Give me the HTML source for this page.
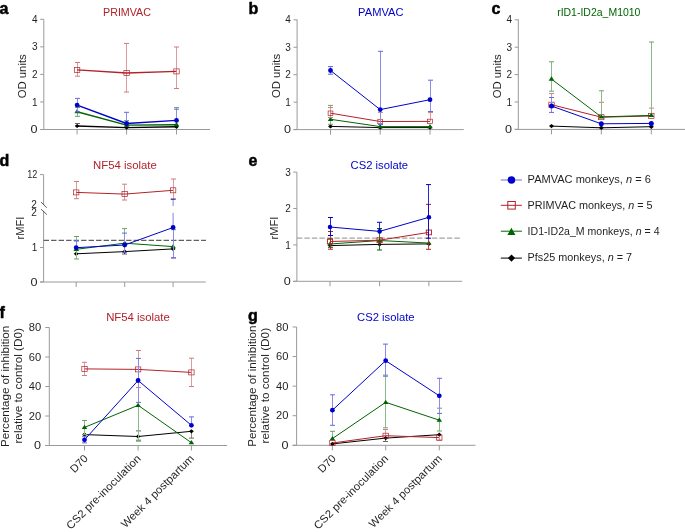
<!DOCTYPE html>
<html><head><meta charset="utf-8"><style>
html,body{margin:0;padding:0;background:#fff;width:685px;height:532px;overflow:hidden}
svg{display:block;will-change:transform}
text{font-family:"Liberation Sans", sans-serif}
</style></head><body>
<svg width="685" height="532" viewBox="0 0 685 532">
<text x="-0.50" y="13.70" font-size="16" font-weight="bold" fill="#000" stroke="#000" stroke-width="0.5">a</text>
<text x="127.00" y="15.90" text-anchor="middle" font-size="10.9" fill="#b2222a" textLength="48" lengthAdjust="spacingAndGlyphs">PRIMVAC</text>
<path d="M43.80,19.40V129.50" stroke="#9a9a9a" stroke-width="1" fill="none"/>
<path d="M40.20,129.50H43.80" stroke="#9a9a9a" stroke-width="1" fill="none"/>
<text x="37.60" y="133.10" text-anchor="end" font-size="10" fill="#231f20" textLength="7.0" lengthAdjust="spacingAndGlyphs">0</text>
<path d="M40.20,101.95H43.80" stroke="#9a9a9a" stroke-width="1" fill="none"/>
<text x="37.60" y="105.55" text-anchor="end" font-size="10" fill="#231f20">1</text>
<path d="M40.20,74.40H43.80" stroke="#9a9a9a" stroke-width="1" fill="none"/>
<text x="37.60" y="78.00" text-anchor="end" font-size="10" fill="#231f20">2</text>
<path d="M40.20,46.85H43.80" stroke="#9a9a9a" stroke-width="1" fill="none"/>
<text x="37.60" y="50.45" text-anchor="end" font-size="10" fill="#231f20">3</text>
<path d="M40.20,19.30H43.80" stroke="#9a9a9a" stroke-width="1" fill="none"/>
<text x="37.60" y="22.90" text-anchor="end" font-size="10" fill="#231f20">4</text>
<text transform="translate(26.20,76.30) rotate(-90)" text-anchor="middle" font-size="11" fill="#231f20" textLength="44.1" lengthAdjust="spacingAndGlyphs">OD units</text>
<path d="M40.20,129.50H210.00" stroke="#9a9a9a" stroke-width="1" fill="none"/>
<path d="M77.10,129.50V134.50" stroke="#9a9a9a" stroke-width="1" fill="none"/>
<path d="M126.60,129.50V134.50" stroke="#9a9a9a" stroke-width="1" fill="none"/>
<path d="M176.50,129.50V134.50" stroke="#9a9a9a" stroke-width="1" fill="none"/>
<path d="M77.50,126.00V123.50" stroke="#8c8c8c" stroke-width="1.0" fill="none"/><path d="M75.00,123.50H80.00" stroke="#666666" stroke-width="1" fill="none"/>
<polyline points="77.10,126.00 126.60,127.60 176.50,126.80" fill="none" stroke="#000000" stroke-width="1.45" stroke-linejoin="round"/>
<path d="M77.10,123.90L79.50,126.00L77.10,128.10L74.70,126.00Z" fill="#000000"/>
<path d="M126.60,125.50L129.00,127.60L126.60,129.70L124.20,127.60Z" fill="#000000"/>
<path d="M176.50,124.70L178.90,126.80L176.50,128.90L174.10,126.80Z" fill="#000000"/>
<path d="M77.50,111.70V107.50" stroke="#8cb98c" stroke-width="1.0" fill="none"/><path d="M75.00,107.50H80.00" stroke="#66a266" stroke-width="1" fill="none"/>
<path d="M77.50,111.70V116.30" stroke="#8cb98c" stroke-width="1.0" fill="none"/><path d="M75.00,116.30H80.00" stroke="#66a266" stroke-width="1" fill="none"/>
<path d="M126.50,125.10V120.60" stroke="#8cb98c" stroke-width="1.0" fill="none"/><path d="M124.00,120.60H129.00" stroke="#66a266" stroke-width="1" fill="none"/>
<path d="M176.50,124.70V107.60" stroke="#8cb98c" stroke-width="1.0" fill="none"/><path d="M174.00,107.60H179.00" stroke="#66a266" stroke-width="1" fill="none"/>
<polyline points="77.10,111.70 126.60,125.10 176.50,124.70" fill="none" stroke="#006400" stroke-width="1.45" stroke-linejoin="round"/>
<path d="M77.10,109.10L79.85,113.30L74.35,113.30Z" fill="#006400"/>
<path d="M126.60,122.50L129.35,126.70L123.85,126.70Z" fill="#006400"/>
<path d="M176.50,122.10L179.25,126.30L173.75,126.30Z" fill="#006400"/>
<path d="M77.50,69.90V62.50" stroke="#dc9c9f" stroke-width="1.0" fill="none"/><path d="M75.00,62.50H80.00" stroke="#d17a7f" stroke-width="1" fill="none"/>
<path d="M77.50,69.90V76.20" stroke="#dc9c9f" stroke-width="1.0" fill="none"/><path d="M75.00,76.20H80.00" stroke="#d17a7f" stroke-width="1" fill="none"/>
<path d="M126.50,73.00V43.40" stroke="#dc9c9f" stroke-width="1.0" fill="none"/><path d="M124.00,43.40H129.00" stroke="#d17a7f" stroke-width="1" fill="none"/>
<path d="M126.50,73.00V92.00" stroke="#dc9c9f" stroke-width="1.0" fill="none"/><path d="M124.00,92.00H129.00" stroke="#d17a7f" stroke-width="1" fill="none"/>
<path d="M176.50,71.40V47.00" stroke="#dc9c9f" stroke-width="1.0" fill="none"/><path d="M174.00,47.00H179.00" stroke="#d17a7f" stroke-width="1" fill="none"/>
<path d="M176.50,71.40V88.50" stroke="#dc9c9f" stroke-width="1.0" fill="none"/><path d="M174.00,88.50H179.00" stroke="#d17a7f" stroke-width="1" fill="none"/>
<polyline points="77.10,69.90 126.60,73.00 176.50,71.40" fill="none" stroke="#b2222a" stroke-width="1.45" stroke-linejoin="round"/>
<rect x="74.40" y="67.40" width="5.40" height="5.00" fill="none" stroke="#b2222a" stroke-width="0.7"/>
<rect x="123.90" y="70.50" width="5.40" height="5.00" fill="none" stroke="#b2222a" stroke-width="0.7"/>
<rect x="173.80" y="68.90" width="5.40" height="5.00" fill="none" stroke="#b2222a" stroke-width="0.7"/>
<path d="M77.50,105.10V98.40" stroke="#8c8ce8" stroke-width="1.0" fill="none"/><path d="M75.00,98.40H80.00" stroke="#6666e0" stroke-width="1" fill="none"/>
<path d="M77.50,105.10V111.80" stroke="#8c8ce8" stroke-width="1.0" fill="none"/><path d="M75.00,111.80H80.00" stroke="#6666e0" stroke-width="1" fill="none"/>
<path d="M126.50,123.50V112.30" stroke="#8c8ce8" stroke-width="1.0" fill="none"/><path d="M124.00,112.30H129.00" stroke="#6666e0" stroke-width="1" fill="none"/>
<path d="M176.50,120.40V109.20" stroke="#8c8ce8" stroke-width="1.0" fill="none"/><path d="M174.00,109.20H179.00" stroke="#6666e0" stroke-width="1" fill="none"/>
<polyline points="77.10,105.10 126.60,123.50 176.50,120.40" fill="none" stroke="#0000cc" stroke-width="1.45" stroke-linejoin="round"/>
<circle cx="77.10" cy="105.10" r="2.40" fill="#0000cc"/>
<circle cx="126.60" cy="123.50" r="2.40" fill="#0000cc"/>
<circle cx="176.50" cy="120.40" r="2.40" fill="#0000cc"/>
<text x="248.50" y="13.70" font-size="16" font-weight="bold" fill="#000" stroke="#000" stroke-width="0.5">b</text>
<text x="380.80" y="15.90" text-anchor="middle" font-size="10.9" fill="#0000cc" textLength="45.4" lengthAdjust="spacingAndGlyphs">PAMVAC</text>
<path d="M297.10,19.60V129.60" stroke="#9a9a9a" stroke-width="1" fill="none"/>
<path d="M293.50,129.60H297.10" stroke="#9a9a9a" stroke-width="1" fill="none"/>
<text x="290.90" y="133.20" text-anchor="end" font-size="10" fill="#231f20" textLength="7.0" lengthAdjust="spacingAndGlyphs">0</text>
<path d="M293.50,102.15H297.10" stroke="#9a9a9a" stroke-width="1" fill="none"/>
<text x="290.90" y="105.75" text-anchor="end" font-size="10" fill="#231f20">1</text>
<path d="M293.50,74.70H297.10" stroke="#9a9a9a" stroke-width="1" fill="none"/>
<text x="290.90" y="78.30" text-anchor="end" font-size="10" fill="#231f20">2</text>
<path d="M293.50,47.25H297.10" stroke="#9a9a9a" stroke-width="1" fill="none"/>
<text x="290.90" y="50.85" text-anchor="end" font-size="10" fill="#231f20">3</text>
<path d="M293.50,19.80H297.10" stroke="#9a9a9a" stroke-width="1" fill="none"/>
<text x="290.90" y="23.40" text-anchor="end" font-size="10" fill="#231f20">4</text>
<text transform="translate(279.90,76.00) rotate(-90)" text-anchor="middle" font-size="11" fill="#231f20" textLength="44.1" lengthAdjust="spacingAndGlyphs">OD units</text>
<path d="M293.50,129.60H463.80" stroke="#9a9a9a" stroke-width="1" fill="none"/>
<path d="M330.50,129.60V134.60" stroke="#9a9a9a" stroke-width="1" fill="none"/>
<path d="M380.20,129.60V134.60" stroke="#9a9a9a" stroke-width="1" fill="none"/>
<path d="M430.00,129.60V134.60" stroke="#9a9a9a" stroke-width="1" fill="none"/>
<polyline points="330.50,126.40 380.20,127.60 430.00,127.60" fill="none" stroke="#000000" stroke-width="1.0" stroke-linejoin="round"/>
<path d="M330.50,124.30L332.90,126.40L330.50,128.50L328.10,126.40Z" fill="#000000"/>
<path d="M380.20,125.50L382.60,127.60L380.20,129.70L377.80,127.60Z" fill="#000000"/>
<path d="M430.00,125.50L432.40,127.60L430.00,129.70L427.60,127.60Z" fill="#000000"/>
<path d="M330.50,119.30V105.40" stroke="#8cb98c" stroke-width="1.0" fill="none"/><path d="M328.00,105.40H333.00" stroke="#66a266" stroke-width="1" fill="none"/>
<path d="M330.50,119.30V124.30" stroke="#8cb98c" stroke-width="1.0" fill="none"/><path d="M328.00,124.30H333.00" stroke="#66a266" stroke-width="1" fill="none"/>
<polyline points="330.50,119.30 380.20,126.60 430.00,126.60" fill="none" stroke="#006400" stroke-width="1.0" stroke-linejoin="round"/>
<path d="M330.50,116.70L333.25,120.90L327.75,120.90Z" fill="#006400"/>
<path d="M380.20,124.00L382.95,128.20L377.45,128.20Z" fill="#006400"/>
<path d="M430.00,124.00L432.75,128.20L427.25,128.20Z" fill="#006400"/>
<path d="M330.50,113.20V107.50" stroke="#dc9c9f" stroke-width="1.0" fill="none"/><path d="M328.00,107.50H333.00" stroke="#d17a7f" stroke-width="1" fill="none"/>
<path d="M330.50,113.20V117.50" stroke="#dc9c9f" stroke-width="1.0" fill="none"/><path d="M328.00,117.50H333.00" stroke="#d17a7f" stroke-width="1" fill="none"/>
<path d="M380.50,121.50V112.40" stroke="#dc9c9f" stroke-width="1.0" fill="none"/><path d="M378.00,112.40H383.00" stroke="#d17a7f" stroke-width="1" fill="none"/>
<path d="M430.50,121.40V112.60" stroke="#dc9c9f" stroke-width="1.0" fill="none"/><path d="M428.00,112.60H433.00" stroke="#d17a7f" stroke-width="1" fill="none"/>
<polyline points="330.50,113.20 380.20,121.50 430.00,121.40" fill="none" stroke="#b2222a" stroke-width="1.0" stroke-linejoin="round"/>
<rect x="328.12" y="111.00" width="4.75" height="4.40" fill="none" stroke="#b2222a" stroke-width="0.7"/>
<rect x="377.82" y="119.30" width="4.75" height="4.40" fill="none" stroke="#b2222a" stroke-width="0.7"/>
<rect x="427.62" y="119.20" width="4.75" height="4.40" fill="none" stroke="#b2222a" stroke-width="0.7"/>
<path d="M330.50,70.50V66.60" stroke="#8c8ce8" stroke-width="1.0" fill="none"/><path d="M328.00,66.60H333.00" stroke="#6666e0" stroke-width="1" fill="none"/>
<path d="M330.50,70.50V74.20" stroke="#8c8ce8" stroke-width="1.0" fill="none"/><path d="M328.00,74.20H333.00" stroke="#6666e0" stroke-width="1" fill="none"/>
<path d="M380.50,109.60V51.30" stroke="#8c8ce8" stroke-width="1.0" fill="none"/><path d="M378.00,51.30H383.00" stroke="#6666e0" stroke-width="1" fill="none"/>
<path d="M380.50,109.60V124.50" stroke="#8c8ce8" stroke-width="1.0" fill="none"/><path d="M378.00,124.50H383.00" stroke="#6666e0" stroke-width="1" fill="none"/>
<path d="M430.50,99.70V80.20" stroke="#8c8ce8" stroke-width="1.0" fill="none"/><path d="M428.00,80.20H433.00" stroke="#6666e0" stroke-width="1" fill="none"/>
<path d="M430.50,99.70V111.50" stroke="#8c8ce8" stroke-width="1.0" fill="none"/><path d="M428.00,111.50H433.00" stroke="#6666e0" stroke-width="1" fill="none"/>
<polyline points="330.50,70.50 380.20,109.60 430.00,99.70" fill="none" stroke="#0000cc" stroke-width="1.0" stroke-linejoin="round"/>
<circle cx="330.50" cy="70.50" r="2.40" fill="#0000cc"/>
<circle cx="380.20" cy="109.60" r="2.40" fill="#0000cc"/>
<circle cx="430.00" cy="99.70" r="2.40" fill="#0000cc"/>
<text x="491.50" y="13.70" font-size="16" font-weight="bold" fill="#000" stroke="#000" stroke-width="0.5">c</text>
<text x="598.80" y="15.90" text-anchor="middle" font-size="10.9" fill="#006400" textLength="83.3" lengthAdjust="spacingAndGlyphs">rID1-ID2a_M1010</text>
<path d="M518.30,19.40V129.40" stroke="#9a9a9a" stroke-width="1" fill="none"/>
<path d="M514.70,129.40H518.30" stroke="#9a9a9a" stroke-width="1" fill="none"/>
<text x="512.10" y="133.00" text-anchor="end" font-size="10" fill="#231f20" textLength="7.0" lengthAdjust="spacingAndGlyphs">0</text>
<path d="M514.70,102.00H518.30" stroke="#9a9a9a" stroke-width="1" fill="none"/>
<text x="512.10" y="105.60" text-anchor="end" font-size="10" fill="#231f20">1</text>
<path d="M514.70,74.60H518.30" stroke="#9a9a9a" stroke-width="1" fill="none"/>
<text x="512.10" y="78.20" text-anchor="end" font-size="10" fill="#231f20">2</text>
<path d="M514.70,47.20H518.30" stroke="#9a9a9a" stroke-width="1" fill="none"/>
<text x="512.10" y="50.80" text-anchor="end" font-size="10" fill="#231f20">3</text>
<path d="M514.70,19.80H518.30" stroke="#9a9a9a" stroke-width="1" fill="none"/>
<text x="512.10" y="23.40" text-anchor="end" font-size="10" fill="#231f20">4</text>
<text transform="translate(500.60,76.30) rotate(-90)" text-anchor="middle" font-size="11" fill="#231f20" textLength="44.1" lengthAdjust="spacingAndGlyphs">OD units</text>
<path d="M514.70,129.40H685.00" stroke="#9a9a9a" stroke-width="1" fill="none"/>
<path d="M551.50,129.40V134.40" stroke="#9a9a9a" stroke-width="1" fill="none"/>
<path d="M601.30,129.40V134.40" stroke="#9a9a9a" stroke-width="1" fill="none"/>
<path d="M651.30,129.40V134.40" stroke="#9a9a9a" stroke-width="1" fill="none"/>
<polyline points="551.50,126.10 601.30,127.80 651.30,126.70" fill="none" stroke="#000000" stroke-width="1.0" stroke-linejoin="round"/>
<path d="M551.50,123.89L554.02,126.10L551.50,128.31L548.98,126.10Z" fill="#000000"/>
<path d="M601.30,125.59L603.82,127.80L601.30,130.00L598.78,127.80Z" fill="#000000"/>
<path d="M651.30,124.50L653.82,126.70L651.30,128.91L648.78,126.70Z" fill="#000000"/>
<path d="M551.50,104.70V93.60" stroke="#dc9c9f" stroke-width="1.0" fill="none"/><path d="M549.00,93.60H554.00" stroke="#d17a7f" stroke-width="1" fill="none"/>
<path d="M601.50,117.20V102.30" stroke="#dc9c9f" stroke-width="1.0" fill="none"/><path d="M599.00,102.30H604.00" stroke="#d17a7f" stroke-width="1" fill="none"/>
<path d="M651.50,116.00V108.10" stroke="#dc9c9f" stroke-width="1.0" fill="none"/><path d="M649.00,108.10H654.00" stroke="#d17a7f" stroke-width="1" fill="none"/>
<polyline points="551.50,104.70 601.30,117.20 651.30,116.00" fill="none" stroke="#b2222a" stroke-width="1.0" stroke-linejoin="round"/>
<rect x="548.80" y="102.20" width="5.40" height="5.00" fill="none" stroke="#b2222a" stroke-width="0.7"/>
<rect x="598.60" y="114.70" width="5.40" height="5.00" fill="none" stroke="#b2222a" stroke-width="0.7"/>
<rect x="648.60" y="113.50" width="5.40" height="5.00" fill="none" stroke="#b2222a" stroke-width="0.7"/>
<path d="M551.50,106.00V97.50" stroke="#8c8ce8" stroke-width="1.0" fill="none"/><path d="M549.00,97.50H554.00" stroke="#6666e0" stroke-width="1" fill="none"/>
<path d="M551.50,106.00V112.40" stroke="#8c8ce8" stroke-width="1.0" fill="none"/><path d="M549.00,112.40H554.00" stroke="#6666e0" stroke-width="1" fill="none"/>
<polyline points="551.50,106.00 601.30,123.80 651.30,123.40" fill="none" stroke="#0000cc" stroke-width="1.0" stroke-linejoin="round"/>
<circle cx="551.50" cy="106.00" r="2.52" fill="#0000cc"/>
<circle cx="601.30" cy="123.80" r="2.52" fill="#0000cc"/>
<circle cx="651.30" cy="123.40" r="2.52" fill="#0000cc"/>
<path d="M551.50,79.10V61.80" stroke="#8cb98c" stroke-width="1.0" fill="none"/><path d="M549.00,61.80H554.00" stroke="#66a266" stroke-width="1" fill="none"/>
<path d="M551.50,79.10V91.20" stroke="#8cb98c" stroke-width="1.0" fill="none"/><path d="M549.00,91.20H554.00" stroke="#66a266" stroke-width="1" fill="none"/>
<path d="M601.50,116.90V90.80" stroke="#8cb98c" stroke-width="1.0" fill="none"/><path d="M599.00,90.80H604.00" stroke="#66a266" stroke-width="1" fill="none"/>
<path d="M651.50,115.40V42.00" stroke="#8cb98c" stroke-width="1.0" fill="none"/><path d="M649.00,42.00H654.00" stroke="#66a266" stroke-width="1" fill="none"/>
<polyline points="551.50,79.10 601.30,116.90 651.30,115.40" fill="none" stroke="#006400" stroke-width="1.0" stroke-linejoin="round"/>
<path d="M551.50,76.37L554.39,80.78L548.61,80.78Z" fill="#006400"/>
<path d="M601.30,114.17L604.19,118.58L598.41,118.58Z" fill="#006400"/>
<path d="M651.30,112.67L654.19,117.08L648.41,117.08Z" fill="#006400"/>
<text x="-0.50" y="165.70" font-size="16" font-weight="bold" fill="#000" stroke="#000" stroke-width="0.5">d</text>
<text x="124.90" y="168.90" text-anchor="middle" font-size="10.9" fill="#b2222a" textLength="63.7" lengthAdjust="spacingAndGlyphs">NF54 isolate</text>
<path d="M43.6,174.6V205M43.6,210.8V282" stroke="#9a9a9a" stroke-width="1" fill="none"/>
<path d="M40.0,174.6H43.6" stroke="#9a9a9a" stroke-width="1"/>
<text x="37.40" y="178.20" text-anchor="end" font-size="10" fill="#231f20" textLength="10.1" lengthAdjust="spacingAndGlyphs">12</text>
<path d="M40.0,247.5H43.6" stroke="#9a9a9a" stroke-width="1"/>
<text x="37.40" y="251.10" text-anchor="end" font-size="10" fill="#231f20">1</text>
<path d="M40.0,282H43.6" stroke="#9a9a9a" stroke-width="1"/>
<text x="37.40" y="285.60" text-anchor="end" font-size="10" fill="#231f20" textLength="7.0" lengthAdjust="spacingAndGlyphs">0</text>
<text x="36.80" y="208.00" text-anchor="end" font-size="10" fill="#231f20">2</text>
<text x="36.80" y="215.80" text-anchor="end" font-size="10" fill="#231f20">2</text>
<path d="M41.05,202.1L46.8,207.7M41.05,209.2L46.8,214.5" stroke="#333" stroke-width="0.8"/>
<text transform="translate(24.20,228.00) rotate(-90)" text-anchor="middle" font-size="11" fill="#231f20" textLength="22.85" lengthAdjust="spacingAndGlyphs">rMFI</text>
<path d="M40.20,282.00H205.80" stroke="#9a9a9a" stroke-width="1" fill="none"/>
<path d="M76.20,282.00V287.00" stroke="#9a9a9a" stroke-width="1" fill="none"/>
<path d="M124.70,282.00V287.00" stroke="#9a9a9a" stroke-width="1" fill="none"/>
<path d="M173.10,282.00V287.00" stroke="#9a9a9a" stroke-width="1" fill="none"/>
<path d="M43.6,240.4H206" stroke="#606060" stroke-width="1.2" stroke-dasharray="5.4 2.1"/>
<path d="M124.50,251.60V254.00" stroke="#8c8c8c" stroke-width="1.0" fill="none"/><path d="M122.00,254.00H127.00" stroke="#666666" stroke-width="1" fill="none"/>
<path d="M173.50,248.90V257.90" stroke="#8c8c8c" stroke-width="1.0" fill="none"/><path d="M171.00,257.90H176.00" stroke="#666666" stroke-width="1" fill="none"/>
<polyline points="76.20,253.80 124.70,251.60 173.10,248.90" fill="none" stroke="#000000" stroke-width="1.0" stroke-linejoin="round"/>
<path d="M76.20,251.70L78.60,253.80L76.20,255.90L73.80,253.80Z" fill="#000000"/>
<path d="M124.70,249.50L127.10,251.60L124.70,253.70L122.30,251.60Z" fill="#000000"/>
<path d="M173.10,246.80L175.50,248.90L173.10,251.00L170.70,248.90Z" fill="#000000"/>
<path d="M76.50,249.30V236.50" stroke="#8cb98c" stroke-width="1.0" fill="none"/><path d="M74.00,236.50H79.00" stroke="#66a266" stroke-width="1" fill="none"/>
<path d="M76.50,249.30V259.00" stroke="#8cb98c" stroke-width="1.0" fill="none"/><path d="M74.00,259.00H79.00" stroke="#66a266" stroke-width="1" fill="none"/>
<path d="M124.50,243.20V228.60" stroke="#8cb98c" stroke-width="1.0" fill="none"/><path d="M122.00,228.60H127.00" stroke="#66a266" stroke-width="1" fill="none"/>
<path d="M173.50,246.60V229.70" stroke="#8cb98c" stroke-width="1.0" fill="none"/><path d="M171.00,229.70H176.00" stroke="#66a266" stroke-width="1" fill="none"/>
<polyline points="76.20,249.30 124.70,243.20 173.10,246.60" fill="none" stroke="#006400" stroke-width="1.0" stroke-linejoin="round"/>
<path d="M76.20,246.70L78.95,250.90L73.45,250.90Z" fill="#006400"/>
<path d="M124.70,240.60L127.45,244.80L121.95,244.80Z" fill="#006400"/>
<path d="M173.10,244.00L175.85,248.20L170.35,248.20Z" fill="#006400"/>
<path d="M76.50,192.40V181.50" stroke="#dc9c9f" stroke-width="1.0" fill="none"/><path d="M74.00,181.50H79.00" stroke="#d17a7f" stroke-width="1" fill="none"/>
<path d="M76.50,192.40V198.70" stroke="#dc9c9f" stroke-width="1.0" fill="none"/><path d="M74.00,198.70H79.00" stroke="#d17a7f" stroke-width="1" fill="none"/>
<path d="M124.50,194.10V184.20" stroke="#dc9c9f" stroke-width="1.0" fill="none"/><path d="M122.00,184.20H127.00" stroke="#d17a7f" stroke-width="1" fill="none"/>
<path d="M124.50,194.10V200.00" stroke="#dc9c9f" stroke-width="1.0" fill="none"/><path d="M122.00,200.00H127.00" stroke="#d17a7f" stroke-width="1" fill="none"/>
<path d="M173.50,190.30V179.00" stroke="#dc9c9f" stroke-width="1.0" fill="none"/><path d="M171.00,179.00H176.00" stroke="#d17a7f" stroke-width="1" fill="none"/>
<path d="M173.50,190.30V198.80" stroke="#dc9c9f" stroke-width="1.0" fill="none"/><path d="M171.00,198.80H176.00" stroke="#d17a7f" stroke-width="1" fill="none"/>
<polyline points="76.20,192.40 124.70,194.10 173.10,190.30" fill="none" stroke="#b2222a" stroke-width="1.0" stroke-linejoin="round"/>
<rect x="73.50" y="189.90" width="5.40" height="5.00" fill="none" stroke="#b2222a" stroke-width="0.7"/>
<rect x="122.00" y="191.60" width="5.40" height="5.00" fill="none" stroke="#b2222a" stroke-width="0.7"/>
<rect x="170.40" y="187.80" width="5.40" height="5.00" fill="none" stroke="#b2222a" stroke-width="0.7"/>
<path d="M76.50,247.70V241.00" stroke="#8c8ce8" stroke-width="1.0" fill="none"/><path d="M74.00,241.00H79.00" stroke="#6666e0" stroke-width="1" fill="none"/>
<path d="M124.50,245.00V233.10" stroke="#8c8ce8" stroke-width="1.0" fill="none"/><path d="M122.00,233.10H127.00" stroke="#6666e0" stroke-width="1" fill="none"/>
<path d="M124.50,245.00V252.30" stroke="#8c8ce8" stroke-width="1.0" fill="none"/><path d="M122.00,252.30H127.00" stroke="#6666e0" stroke-width="1" fill="none"/>
<path d="M173.50,227.50V257.90" stroke="#8c8ce8" stroke-width="1.0" fill="none"/><path d="M171.00,257.90H176.00" stroke="#6666e0" stroke-width="1" fill="none"/>
<polyline points="76.20,247.70 124.70,245.00 173.10,227.50" fill="none" stroke="#0000cc" stroke-width="1.0" stroke-linejoin="round"/>
<circle cx="76.20" cy="247.70" r="2.40" fill="#0000cc"/>
<circle cx="124.70" cy="245.00" r="2.40" fill="#0000cc"/>
<circle cx="173.10" cy="227.50" r="2.40" fill="#0000cc"/>
<path d="M173.1,227.5V212.8M173.1,206V199.3" stroke="#0000cc" stroke-width="0.5" fill="none"/><path d="M170.6,199.3H175.6" stroke="#0000cc" stroke-width="0.8"/>
<text x="248.50" y="165.70" font-size="16" font-weight="bold" fill="#000" stroke="#000" stroke-width="0.5">e</text>
<text x="379.30" y="168.90" text-anchor="middle" font-size="10.9" fill="#0000cc" textLength="57.6" lengthAdjust="spacingAndGlyphs">CS2 isolate</text>
<path d="M296.90,172.20V281.30" stroke="#9a9a9a" stroke-width="1" fill="none"/>
<path d="M293.30,281.30H296.90" stroke="#9a9a9a" stroke-width="1" fill="none"/>
<text x="290.70" y="284.90" text-anchor="end" font-size="10" fill="#231f20" textLength="7.0" lengthAdjust="spacingAndGlyphs">0</text>
<path d="M293.30,244.90H296.90" stroke="#9a9a9a" stroke-width="1" fill="none"/>
<text x="290.70" y="248.50" text-anchor="end" font-size="10" fill="#231f20">1</text>
<path d="M293.30,208.50H296.90" stroke="#9a9a9a" stroke-width="1" fill="none"/>
<text x="290.70" y="212.10" text-anchor="end" font-size="10" fill="#231f20">2</text>
<path d="M293.30,172.10H296.90" stroke="#9a9a9a" stroke-width="1" fill="none"/>
<text x="290.70" y="175.70" text-anchor="end" font-size="10" fill="#231f20">3</text>
<text transform="translate(277.50,228.00) rotate(-90)" text-anchor="middle" font-size="11" fill="#231f20" textLength="22.85" lengthAdjust="spacingAndGlyphs">rMFI</text>
<path d="M293.30,281.30H462.20" stroke="#9a9a9a" stroke-width="1" fill="none"/>
<path d="M330.00,281.30V286.30" stroke="#9a9a9a" stroke-width="1" fill="none"/>
<path d="M379.60,281.30V286.30" stroke="#9a9a9a" stroke-width="1" fill="none"/>
<path d="M428.90,281.30V286.30" stroke="#9a9a9a" stroke-width="1" fill="none"/>
<path d="M296.9,238.2H460.6" stroke="#a4a4a4" stroke-width="1.2" stroke-dasharray="5.4 2.1"/>
<polyline points="330.00,245.60 379.60,244.40 428.90,243.90" fill="none" stroke="#000000" stroke-width="1.0" stroke-linejoin="round"/>
<path d="M330.00,243.60L332.28,245.60L330.00,247.59L327.72,245.60Z" fill="#000000"/>
<path d="M379.60,242.41L381.88,244.40L379.60,246.40L377.32,244.40Z" fill="#000000"/>
<path d="M428.90,241.91L431.18,243.90L428.90,245.90L426.62,243.90Z" fill="#000000"/>
<path d="M330.50,244.00V238.90" stroke="#006400" stroke-width="0.85" fill="none"/><path d="M328.00,238.90H333.00" stroke="#006400" stroke-width="1" fill="none"/>
<path d="M330.50,244.00V247.30" stroke="#006400" stroke-width="0.85" fill="none"/><path d="M328.00,247.30H333.00" stroke="#006400" stroke-width="1" fill="none"/>
<path d="M379.50,240.50V228.50" stroke="#006400" stroke-width="0.85" fill="none"/><path d="M377.00,228.50H382.00" stroke="#006400" stroke-width="1" fill="none"/>
<path d="M379.50,240.50V250.00" stroke="#006400" stroke-width="0.85" fill="none"/><path d="M377.00,250.00H382.00" stroke="#006400" stroke-width="1" fill="none"/>
<polyline points="330.00,244.00 379.60,240.50 428.90,243.10" fill="none" stroke="#006400" stroke-width="1.0" stroke-linejoin="round"/>
<path d="M330.00,241.53L332.61,245.52L327.39,245.52Z" fill="#006400"/>
<path d="M379.60,238.03L382.21,242.02L376.99,242.02Z" fill="#006400"/>
<path d="M428.90,240.63L431.51,244.62L426.29,244.62Z" fill="#006400"/>
<path d="M330.50,241.50V231.50" stroke="#b2222a" stroke-width="0.85" fill="none"/><path d="M328.00,231.50H333.00" stroke="#b2222a" stroke-width="1" fill="none"/>
<path d="M330.50,241.50V249.20" stroke="#b2222a" stroke-width="0.85" fill="none"/><path d="M328.00,249.20H333.00" stroke="#b2222a" stroke-width="1" fill="none"/>
<path d="M428.50,232.40V204.40" stroke="#b2222a" stroke-width="0.85" fill="none"/><path d="M426.00,204.40H431.00" stroke="#b2222a" stroke-width="1" fill="none"/>
<path d="M428.50,232.40V249.30" stroke="#b2222a" stroke-width="0.85" fill="none"/><path d="M426.00,249.30H431.00" stroke="#b2222a" stroke-width="1" fill="none"/>
<polyline points="330.00,241.50 379.60,240.20 428.90,232.40" fill="none" stroke="#b2222a" stroke-width="1.0" stroke-linejoin="round"/>
<rect x="327.44" y="239.12" width="5.13" height="4.75" fill="none" stroke="#b2222a" stroke-width="0.95"/>
<rect x="377.04" y="237.82" width="5.13" height="4.75" fill="none" stroke="#b2222a" stroke-width="0.95"/>
<rect x="426.33" y="230.03" width="5.13" height="4.75" fill="none" stroke="#b2222a" stroke-width="0.95"/>
<path d="M330.50,227.00V217.50" stroke="#0000cc" stroke-width="0.85" fill="none"/><path d="M328.00,217.50H333.00" stroke="#0000cc" stroke-width="1" fill="none"/>
<path d="M330.50,227.00V235.50" stroke="#0000cc" stroke-width="0.85" fill="none"/><path d="M328.00,235.50H333.00" stroke="#0000cc" stroke-width="1" fill="none"/>
<path d="M379.50,231.40V222.30" stroke="#0000cc" stroke-width="0.85" fill="none"/><path d="M377.00,222.30H382.00" stroke="#0000cc" stroke-width="1" fill="none"/>
<path d="M428.50,217.30V184.60" stroke="#0000cc" stroke-width="0.85" fill="none"/><path d="M426.00,184.60H431.00" stroke="#0000cc" stroke-width="1" fill="none"/>
<path d="M428.50,217.30V238.20" stroke="#0000cc" stroke-width="0.85" fill="none"/><path d="M426.00,238.20H431.00" stroke="#0000cc" stroke-width="1" fill="none"/>
<polyline points="330.00,227.00 379.60,231.40 428.90,217.30" fill="none" stroke="#0000cc" stroke-width="1.0" stroke-linejoin="round"/>
<circle cx="330.00" cy="227.00" r="2.28" fill="#0000cc"/>
<circle cx="379.60" cy="231.40" r="2.28" fill="#0000cc"/>
<circle cx="428.90" cy="217.30" r="2.28" fill="#0000cc"/>
<path d="M500.8,180H521.9" stroke="#6d6dd8" stroke-width="1"/>
<circle cx="511.4" cy="180" r="3.8" fill="#0000cc"/>
<text x="527.6" y="183.30" font-size="10.3" fill="#231f20" textLength="123.22" lengthAdjust="spacingAndGlyphs">PAMVAC monkeys, <tspan font-style="italic">n</tspan> = 6</text>
<path d="M500.8,205.3H521.9" stroke="#b2222a" stroke-width="1"/>
<rect x="507.8" y="201.50" width="7.5" height="7.6" fill="none" stroke="#b2222a" stroke-width="1"/>
<text x="527.6" y="208.60" font-size="10.3" fill="#231f20" textLength="124.98" lengthAdjust="spacingAndGlyphs">PRIMVAC monkeys, <tspan font-style="italic">n</tspan> = 5</text>
<path d="M500.8,231.2H521.9" stroke="#006400" stroke-width="1"/>
<path d="M511.4,227.70L515.4,235.10L507.4,235.10Z" fill="#006400"/>
<text x="527.6" y="234.50" font-size="10.3" fill="#231f20" textLength="131.93" lengthAdjust="spacingAndGlyphs">ID1-ID2a_M monkeys, <tspan font-style="italic">n</tspan> = 4</text>
<path d="M500.8,258.1H521.9" stroke="#000000" stroke-width="1"/>
<path d="M511.5,254.40L515.1,258.10L511.5,261.80L507.9,258.10Z" fill="#000000"/>
<text x="527.6" y="261.40" font-size="10.3" fill="#231f20" textLength="104.48" lengthAdjust="spacingAndGlyphs">Pfs25 monkeys, <tspan font-style="italic">n</tspan> = 7</text>
<text x="-0.50" y="318.30" font-size="16" font-weight="bold" fill="#000" stroke="#000" stroke-width="0.5">f</text>
<text x="138.00" y="321.10" text-anchor="middle" font-size="10.9" fill="#b2222a" textLength="63.7" lengthAdjust="spacingAndGlyphs">NF54 isolate</text>
<path d="M49.30,327.50V445.50" stroke="#9a9a9a" stroke-width="1" fill="none"/>
<path d="M45.30,445.50H49.30" stroke="#9a9a9a" stroke-width="1" fill="none"/>
<text x="41.10" y="449.10" text-anchor="end" font-size="10" fill="#231f20" textLength="7.0" lengthAdjust="spacingAndGlyphs">0</text>
<path d="M45.30,416.00H49.30" stroke="#9a9a9a" stroke-width="1" fill="none"/>
<text x="41.10" y="419.60" text-anchor="end" font-size="10" fill="#231f20" textLength="12.4" lengthAdjust="spacingAndGlyphs">20</text>
<path d="M45.30,386.50H49.30" stroke="#9a9a9a" stroke-width="1" fill="none"/>
<text x="41.10" y="390.10" text-anchor="end" font-size="10" fill="#231f20" textLength="12.4" lengthAdjust="spacingAndGlyphs">40</text>
<path d="M45.30,357.00H49.30" stroke="#9a9a9a" stroke-width="1" fill="none"/>
<text x="41.10" y="360.60" text-anchor="end" font-size="10" fill="#231f20" textLength="12.4" lengthAdjust="spacingAndGlyphs">60</text>
<path d="M45.30,327.50H49.30" stroke="#9a9a9a" stroke-width="1" fill="none"/>
<text x="41.10" y="331.10" text-anchor="end" font-size="10" fill="#231f20" textLength="12.4" lengthAdjust="spacingAndGlyphs">80</text>
<text transform="translate(9.0,386.35) rotate(-90)" text-anchor="middle" font-size="11" fill="#231f20" textLength="121.2" lengthAdjust="spacingAndGlyphs">Percentage of inhibition</text>
<text transform="translate(22,385.8) rotate(-90)" text-anchor="middle" font-size="11" fill="#231f20" textLength="115.5" lengthAdjust="spacingAndGlyphs">relative to control (D0)</text>
<path d="M45.30,445.50H227.10" stroke="#9a9a9a" stroke-width="1" fill="none"/>
<path d="M84.50,445.50V450.50" stroke="#9a9a9a" stroke-width="1" fill="none"/>
<path d="M138.10,445.50V450.50" stroke="#9a9a9a" stroke-width="1" fill="none"/>
<path d="M191.40,445.50V450.50" stroke="#9a9a9a" stroke-width="1" fill="none"/>
<path d="M138.50,436.50V430.90" stroke="#8c8c8c" stroke-width="1.0" fill="none"/><path d="M136.00,430.90H141.00" stroke="#666666" stroke-width="1" fill="none"/>
<path d="M138.50,436.50V440.20" stroke="#8c8c8c" stroke-width="1.0" fill="none"/><path d="M136.00,440.20H141.00" stroke="#666666" stroke-width="1" fill="none"/>
<path d="M191.50,431.30V438.10" stroke="#8c8c8c" stroke-width="1.0" fill="none"/><path d="M189.00,438.10H194.00" stroke="#666666" stroke-width="1" fill="none"/>
<polyline points="84.50,434.60 138.10,436.50 191.40,431.30" fill="none" stroke="#000000" stroke-width="1.0" stroke-linejoin="round"/>
<path d="M84.50,432.50L86.90,434.60L84.50,436.70L82.10,434.60Z" fill="#000000"/>
<path d="M138.10,434.40L140.50,436.50L138.10,438.60L135.70,436.50Z" fill="#000000"/>
<path d="M191.40,429.20L193.80,431.30L191.40,433.40L189.00,431.30Z" fill="#000000"/>
<path d="M84.50,427.40V420.50" stroke="#8cb98c" stroke-width="1.0" fill="none"/><path d="M82.00,420.50H87.00" stroke="#66a266" stroke-width="1" fill="none"/>
<path d="M84.50,427.40V434.50" stroke="#8cb98c" stroke-width="1.0" fill="none"/><path d="M82.00,434.50H87.00" stroke="#66a266" stroke-width="1" fill="none"/>
<path d="M138.50,405.30V441.20" stroke="#8cb98c" stroke-width="1.0" fill="none"/><path d="M136.00,441.20H141.00" stroke="#66a266" stroke-width="1" fill="none"/>
<polyline points="84.50,427.40 138.10,405.30 191.40,442.70" fill="none" stroke="#006400" stroke-width="1.0" stroke-linejoin="round"/>
<path d="M84.50,424.80L87.25,429.00L81.75,429.00Z" fill="#006400"/>
<path d="M138.10,402.70L140.85,406.90L135.35,406.90Z" fill="#006400"/>
<path d="M191.40,440.10L194.15,444.30L188.65,444.30Z" fill="#006400"/>
<path d="M84.50,368.90V362.30" stroke="#dc9c9f" stroke-width="1.0" fill="none"/><path d="M82.00,362.30H87.00" stroke="#d17a7f" stroke-width="1" fill="none"/>
<path d="M84.50,368.90V375.50" stroke="#dc9c9f" stroke-width="1.0" fill="none"/><path d="M82.00,375.50H87.00" stroke="#d17a7f" stroke-width="1" fill="none"/>
<path d="M138.50,369.40V350.50" stroke="#dc9c9f" stroke-width="1.0" fill="none"/><path d="M136.00,350.50H141.00" stroke="#d17a7f" stroke-width="1" fill="none"/>
<path d="M138.50,369.40V387.50" stroke="#dc9c9f" stroke-width="1.0" fill="none"/><path d="M136.00,387.50H141.00" stroke="#d17a7f" stroke-width="1" fill="none"/>
<path d="M191.50,372.40V358.20" stroke="#dc9c9f" stroke-width="1.0" fill="none"/><path d="M189.00,358.20H194.00" stroke="#d17a7f" stroke-width="1" fill="none"/>
<path d="M191.50,372.40V386.50" stroke="#dc9c9f" stroke-width="1.0" fill="none"/><path d="M189.00,386.50H194.00" stroke="#d17a7f" stroke-width="1" fill="none"/>
<polyline points="84.50,368.90 138.10,369.40 191.40,372.40" fill="none" stroke="#b2222a" stroke-width="1.0" stroke-linejoin="round"/>
<rect x="81.80" y="366.40" width="5.40" height="5.00" fill="none" stroke="#b2222a" stroke-width="0.7"/>
<rect x="135.40" y="366.90" width="5.40" height="5.00" fill="none" stroke="#b2222a" stroke-width="0.7"/>
<rect x="188.70" y="369.90" width="5.40" height="5.00" fill="none" stroke="#b2222a" stroke-width="0.7"/>
<path d="M84.50,439.80V436.30" stroke="#8c8ce8" stroke-width="1.0" fill="none"/><path d="M82.00,436.30H87.00" stroke="#6666e0" stroke-width="1" fill="none"/>
<path d="M84.50,439.80V442.90" stroke="#8c8ce8" stroke-width="1.0" fill="none"/><path d="M82.00,442.90H87.00" stroke="#6666e0" stroke-width="1" fill="none"/>
<path d="M138.50,380.50V358.40" stroke="#8c8ce8" stroke-width="1.0" fill="none"/><path d="M136.00,358.40H141.00" stroke="#6666e0" stroke-width="1" fill="none"/>
<path d="M138.50,380.50V402.40" stroke="#8c8ce8" stroke-width="1.0" fill="none"/><path d="M136.00,402.40H141.00" stroke="#6666e0" stroke-width="1" fill="none"/>
<path d="M191.50,425.30V416.90" stroke="#8c8ce8" stroke-width="1.0" fill="none"/><path d="M189.00,416.90H194.00" stroke="#6666e0" stroke-width="1" fill="none"/>
<polyline points="84.50,439.80 138.10,380.50 191.40,425.30" fill="none" stroke="#0000cc" stroke-width="1.0" stroke-linejoin="round"/>
<circle cx="84.50" cy="439.80" r="2.40" fill="#0000cc"/>
<circle cx="138.10" cy="380.50" r="2.40" fill="#0000cc"/>
<circle cx="191.40" cy="425.30" r="2.40" fill="#0000cc"/>
<text transform="translate(88.70,459.2) rotate(-45)" text-anchor="end" font-size="11" fill="#231f20" textLength="20.2" lengthAdjust="spacingAndGlyphs">D70</text>
<text transform="translate(141.40,459.2) rotate(-45)" text-anchor="end" font-size="11" fill="#231f20" textLength="100.0" lengthAdjust="spacingAndGlyphs">CS2 pre-inoculation</text>
<text transform="translate(194.70,459.2) rotate(-45)" text-anchor="end" font-size="11" fill="#231f20" textLength="98.0" lengthAdjust="spacingAndGlyphs">Week 4 postpartum</text>
<text x="248.00" y="321.40" font-size="16" font-weight="bold" fill="#000" stroke="#000" stroke-width="0.5">g</text>
<text x="385.80" y="320.80" text-anchor="middle" font-size="10.9" fill="#0000cc" textLength="57.6" lengthAdjust="spacingAndGlyphs">CS2 isolate</text>
<path d="M296.60,327.00V445.30" stroke="#9a9a9a" stroke-width="1" fill="none"/>
<path d="M292.60,445.30H296.60" stroke="#9a9a9a" stroke-width="1" fill="none"/>
<text x="288.40" y="448.90" text-anchor="end" font-size="10" fill="#231f20" textLength="7.0" lengthAdjust="spacingAndGlyphs">0</text>
<path d="M292.60,415.72H296.60" stroke="#9a9a9a" stroke-width="1" fill="none"/>
<text x="288.40" y="419.32" text-anchor="end" font-size="10" fill="#231f20" textLength="12.4" lengthAdjust="spacingAndGlyphs">20</text>
<path d="M292.60,386.14H296.60" stroke="#9a9a9a" stroke-width="1" fill="none"/>
<text x="288.40" y="389.74" text-anchor="end" font-size="10" fill="#231f20" textLength="12.4" lengthAdjust="spacingAndGlyphs">40</text>
<path d="M292.60,356.56H296.60" stroke="#9a9a9a" stroke-width="1" fill="none"/>
<text x="288.40" y="360.16" text-anchor="end" font-size="10" fill="#231f20" textLength="12.4" lengthAdjust="spacingAndGlyphs">60</text>
<path d="M292.60,326.98H296.60" stroke="#9a9a9a" stroke-width="1" fill="none"/>
<text x="288.40" y="330.58" text-anchor="end" font-size="10" fill="#231f20" textLength="12.4" lengthAdjust="spacingAndGlyphs">80</text>
<text transform="translate(256.3,386.2) rotate(-90)" text-anchor="middle" font-size="11" fill="#231f20" textLength="121.2" lengthAdjust="spacingAndGlyphs">Percentage of inhibition</text>
<text transform="translate(269.3,385.7) rotate(-90)" text-anchor="middle" font-size="11" fill="#231f20" textLength="115.5" lengthAdjust="spacingAndGlyphs">relative to control (D0)</text>
<path d="M292.60,445.30H475.50" stroke="#9a9a9a" stroke-width="1" fill="none"/>
<path d="M332.40,445.30V450.30" stroke="#9a9a9a" stroke-width="1" fill="none"/>
<path d="M385.70,445.30V450.30" stroke="#9a9a9a" stroke-width="1" fill="none"/>
<path d="M439.30,445.30V450.30" stroke="#9a9a9a" stroke-width="1" fill="none"/>
<path d="M385.50,438.10V441.50" stroke="#8c8c8c" stroke-width="1.0" fill="none"/><path d="M383.00,441.50H388.00" stroke="#666666" stroke-width="1" fill="none"/>
<polyline points="332.40,443.90 385.70,438.10 439.30,434.70" fill="none" stroke="#000000" stroke-width="1.0" stroke-linejoin="round"/>
<path d="M332.40,441.80L334.80,443.90L332.40,446.00L330.00,443.90Z" fill="#000000"/>
<path d="M385.70,436.00L388.10,438.10L385.70,440.20L383.30,438.10Z" fill="#000000"/>
<path d="M439.30,432.60L441.70,434.70L439.30,436.80L436.90,434.70Z" fill="#000000"/>
<path d="M332.50,438.60V431.30" stroke="#8cb98c" stroke-width="1.0" fill="none"/><path d="M330.00,431.30H335.00" stroke="#66a266" stroke-width="1" fill="none"/>
<path d="M385.50,402.30V375.10" stroke="#8cb98c" stroke-width="1.0" fill="none"/><path d="M383.00,375.10H388.00" stroke="#66a266" stroke-width="1" fill="none"/>
<path d="M385.50,402.30V427.80" stroke="#8cb98c" stroke-width="1.0" fill="none"/><path d="M383.00,427.80H388.00" stroke="#66a266" stroke-width="1" fill="none"/>
<path d="M439.50,420.20V408.20" stroke="#8cb98c" stroke-width="1.0" fill="none"/><path d="M437.00,408.20H442.00" stroke="#66a266" stroke-width="1" fill="none"/>
<path d="M439.50,420.20V431.00" stroke="#8cb98c" stroke-width="1.0" fill="none"/><path d="M437.00,431.00H442.00" stroke="#66a266" stroke-width="1" fill="none"/>
<polyline points="332.40,438.60 385.70,402.30 439.30,420.20" fill="none" stroke="#006400" stroke-width="1.0" stroke-linejoin="round"/>
<path d="M332.40,436.00L335.15,440.20L329.65,440.20Z" fill="#006400"/>
<path d="M385.70,399.70L388.45,403.90L382.95,403.90Z" fill="#006400"/>
<path d="M439.30,417.60L442.05,421.80L436.55,421.80Z" fill="#006400"/>
<path d="M385.50,435.70V429.50" stroke="#dc9c9f" stroke-width="1.0" fill="none"/><path d="M383.00,429.50H388.00" stroke="#d17a7f" stroke-width="1" fill="none"/>
<path d="M439.50,437.60V440.30" stroke="#dc9c9f" stroke-width="1.0" fill="none"/><path d="M437.00,440.30H442.00" stroke="#d17a7f" stroke-width="1" fill="none"/>
<polyline points="332.40,443.00 385.70,435.70 439.30,437.60" fill="none" stroke="#b2222a" stroke-width="1.0" stroke-linejoin="round"/>
<rect x="329.70" y="440.50" width="5.40" height="5.00" fill="none" stroke="#b2222a" stroke-width="0.7"/>
<rect x="383.00" y="433.20" width="5.40" height="5.00" fill="none" stroke="#b2222a" stroke-width="0.7"/>
<rect x="436.60" y="435.10" width="5.40" height="5.00" fill="none" stroke="#b2222a" stroke-width="0.7"/>
<path d="M332.50,410.20V394.80" stroke="#8c8ce8" stroke-width="1.0" fill="none"/><path d="M330.00,394.80H335.00" stroke="#6666e0" stroke-width="1" fill="none"/>
<path d="M332.50,410.20V425.30" stroke="#8c8ce8" stroke-width="1.0" fill="none"/><path d="M330.00,425.30H335.00" stroke="#6666e0" stroke-width="1" fill="none"/>
<path d="M385.50,360.70V344.10" stroke="#8c8ce8" stroke-width="1.0" fill="none"/><path d="M383.00,344.10H388.00" stroke="#6666e0" stroke-width="1" fill="none"/>
<path d="M385.50,360.70V376.20" stroke="#8c8ce8" stroke-width="1.0" fill="none"/><path d="M383.00,376.20H388.00" stroke="#6666e0" stroke-width="1" fill="none"/>
<path d="M439.50,395.80V378.30" stroke="#8c8ce8" stroke-width="1.0" fill="none"/><path d="M437.00,378.30H442.00" stroke="#6666e0" stroke-width="1" fill="none"/>
<path d="M439.50,395.80V413.40" stroke="#8c8ce8" stroke-width="1.0" fill="none"/><path d="M437.00,413.40H442.00" stroke="#6666e0" stroke-width="1" fill="none"/>
<polyline points="332.40,410.20 385.70,360.70 439.30,395.80" fill="none" stroke="#0000cc" stroke-width="1.0" stroke-linejoin="round"/>
<circle cx="332.40" cy="410.20" r="2.40" fill="#0000cc"/>
<circle cx="385.70" cy="360.70" r="2.40" fill="#0000cc"/>
<circle cx="439.30" cy="395.80" r="2.40" fill="#0000cc"/>
<text transform="translate(336.60,459.2) rotate(-45)" text-anchor="end" font-size="11" fill="#231f20" textLength="20.2" lengthAdjust="spacingAndGlyphs">D70</text>
<text transform="translate(389.00,459.2) rotate(-45)" text-anchor="end" font-size="11" fill="#231f20" textLength="100.0" lengthAdjust="spacingAndGlyphs">CS2 pre-inoculation</text>
<text transform="translate(442.60,459.2) rotate(-45)" text-anchor="end" font-size="11" fill="#231f20" textLength="98.0" lengthAdjust="spacingAndGlyphs">Week 4 postpartum</text>
</svg>
</body></html>
